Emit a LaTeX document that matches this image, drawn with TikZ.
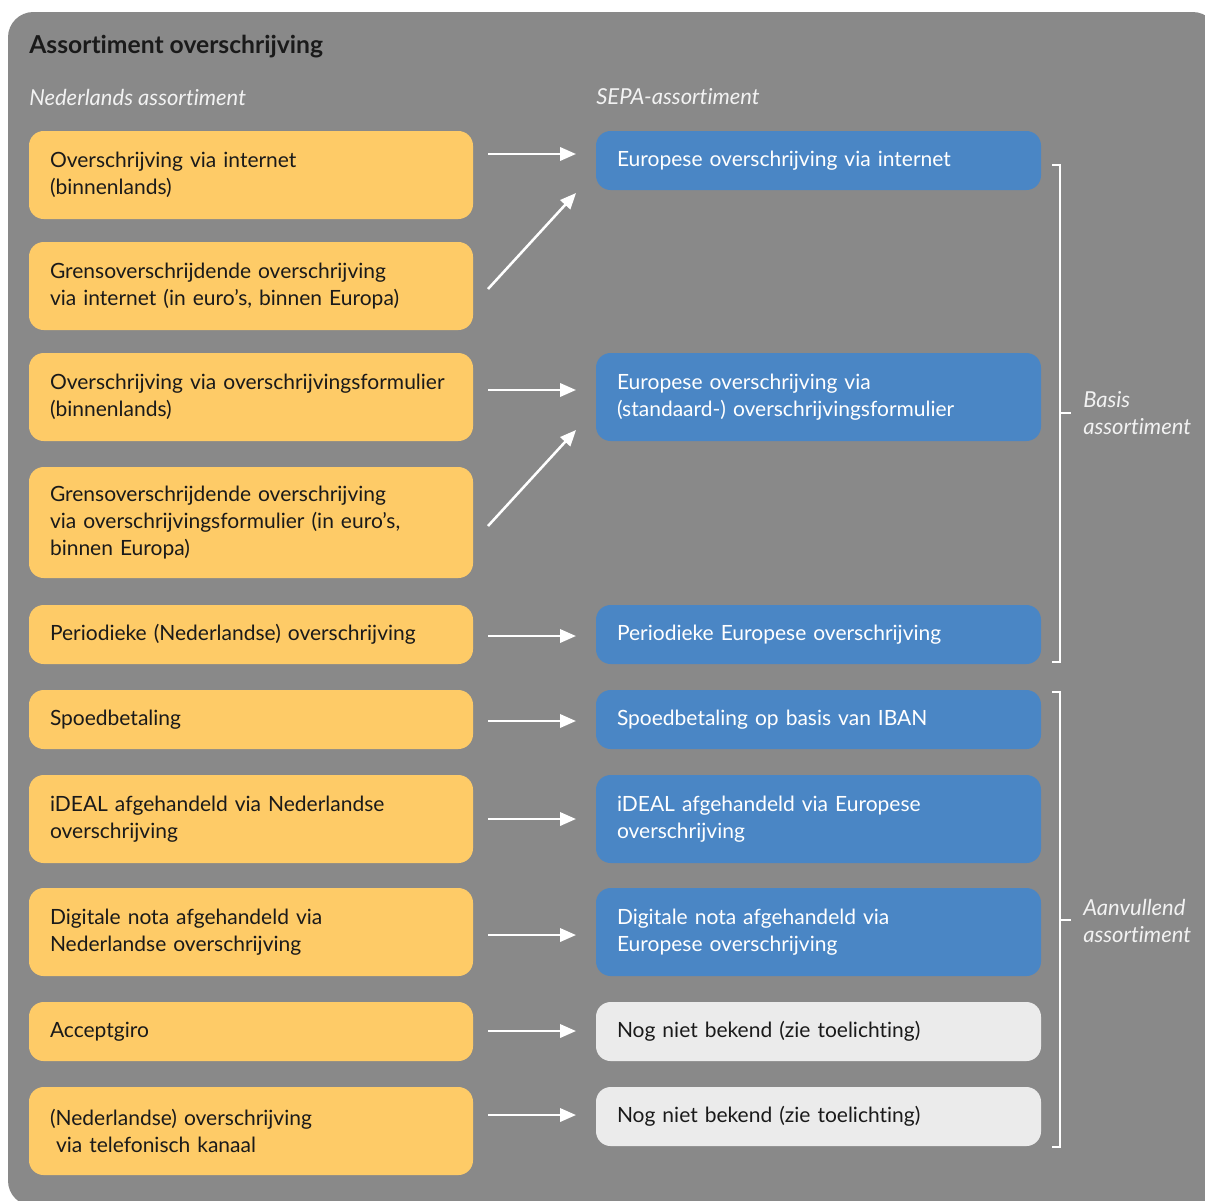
\documentclass[tikz,border=0pt]{standalone}
\usepackage{fontspec}
\setmainfont{Lato}[Ligatures=NoCommon]
\usetikzlibrary{arrows.meta}
\definecolor{bg}{HTML}{898989}
\definecolor{yel}{HTML}{FECB67}
\definecolor{blu}{HTML}{4A86C5}
\definecolor{lgr}{HTML}{EBEBEB}
\definecolor{ink}{HTML}{1A1A1A}
\definecolor{hd}{HTML}{F2F2F2}
\tikzset{
  x=0.75pt, y=-0.75pt,
  boxbase/.style={rounded corners=11pt, inner xsep=15.75pt, inner ysep=0pt, align=left,
    font=\fontsize{15.75}{20}\selectfont, anchor=center},
  lbox/.style={boxbase, fill=yel, text=ink, minimum width=333pt, text width=301.5pt},
  rbox/.style={boxbase, fill=blu, text=white, minimum width=333.75pt, text width=302.25pt},
  gbox/.style={boxbase, fill=lgr, text=ink, minimum width=333.75pt, text width=302.25pt},
  conn/.style={white, line width=1.9pt, -{Triangle[length=12pt,width=10pt]}},
  brk/.style={white, line width=1.5pt},
  hdtxt/.style={anchor=west, text=hd, font=\fontsize{16.5}{20}\selectfont\itshape, inner sep=0pt},
  side/.style={anchor=west, text=hd, align=left, font=\fontsize{16.5}{20}\selectfont\itshape, inner sep=0pt},
}
\begin{document}
\begin{tikzpicture}
\useasboundingbox (0,0) rectangle (1205,1200);
\clip (0,0) rectangle (1205,1200);
\fill[bg, rounded corners=19pt] (8,12) rectangle (1218,1206);

\node[anchor=west, inner sep=0pt, text=ink, font=\fontsize{18.5}{22}\selectfont\bfseries] (title) at (29,47) {Assortiment overschrijving};
\node[hdtxt] (hl) at (29,97) {Nederlands assortiment};
\node[hdtxt] (hr) at (596,97) {SEPA-assortiment};

% left boxes
\node[lbox, minimum height=66pt] (L1) at (251,175) {Overschrijving via internet\\(binnenlands)};
\node[lbox, minimum height=66pt] (L2) at (251,286) {Grensoverschrijdende overschrijving\\via internet (in euro’s, binnen Europa)};
\node[lbox, minimum height=66pt] (L3) at (251,397) {Overschrijving via overschrijvingsformulier\\(binnenlands)};
\node[lbox, minimum height=83.25pt] (L4) at (251,522.5) {Grensoverschrijdende overschrijving\\via overschrijvingsformulier (in euro’s,\\binnen Europa)};
\node[lbox, minimum height=44.25pt] (L5) at (251,634.5) {Periodieke (Nederlandse) overschrijving};
\node[lbox, minimum height=44.25pt] (L6) at (251,719.5) {Spoedbetaling};
\node[lbox, minimum height=66pt] (L7) at (251,819) {iDEAL afgehandeld via Nederlandse\\overschrijving};
\node[lbox, minimum height=66pt] (L8) at (251,932) {Digitale nota afgehandeld via\\Nederlandse overschrijving};
\node[lbox, minimum height=44.25pt] (L9) at (251,1031.5) {Acceptgiro};
\node[lbox, minimum height=66pt] (L10) at (251,1131) {(Nederlandse) overschrijving\\\hspace*{4.5pt}via telefonisch kanaal};

% right boxes
\node[rbox, minimum height=44.25pt] (R1) at (818.5,160.5) {Europese overschrijving via internet};
\node[rbox, minimum height=66pt] (R2) at (818.5,397) {Europese overschrijving via\\(standaard-) overschrijvingsformulier};
\node[rbox, minimum height=44.25pt] (R3) at (818.5,634.5) {Periodieke Europese overschrijving};
\node[rbox, minimum height=44.25pt] (R4) at (818.5,719.5) {Spoedbetaling op basis van IBAN};
\node[rbox, minimum height=66pt] (R5) at (818.5,819) {iDEAL afgehandeld via Europese\\overschrijving};
\node[rbox, minimum height=66pt] (R6) at (818.5,932) {Digitale nota afgehandeld via\\Europese overschrijving};
\node[gbox, minimum height=44.25pt] (R7) at (818.5,1031.5) {Nog niet bekend (zie toelichting)};
\node[gbox, minimum height=44.25pt] (R8) at (818.5,1116.5) {Nog niet bekend (zie toelichting)};

% arrows
\coordinate (a1s) at (488,154);  \coordinate (a1e) at (576,154);
\coordinate (a2s) at (488,289);  \coordinate (a2e) at (576,193);
\coordinate (a3s) at (488,390);  \coordinate (a3e) at (576,390);
\coordinate (a4s) at (488,526);  \coordinate (a4e) at (576,430);
\coordinate (a5s) at (488,636);  \coordinate (a5e) at (576,636);
\coordinate (a6s) at (488,721);  \coordinate (a6e) at (576,721);
\coordinate (a7s) at (488,819);  \coordinate (a7e) at (576,819);
\coordinate (a8s) at (488,935);  \coordinate (a8e) at (576,935);
\coordinate (a9s) at (488,1031); \coordinate (a9e) at (576,1031);
\coordinate (a10s) at (488,1115); \coordinate (a10e) at (576,1115);
\foreach \i in {1,...,10} {\draw[conn] (a\i s) -- (a\i e);}

% brackets
\draw[brk] (1052,165) -- (1060,165) -- (1060,662) -- (1052,662);
\draw[brk] (1060,413) -- (1071,413);
\node[side] (basis) at (1083,413) {Basis\\assortiment};
\draw[brk] (1052,692) -- (1060,692) -- (1060,1147) -- (1052,1147);
\draw[brk] (1060,920) -- (1071,920);
\node[side] (aanv) at (1083,921) {Aanvullend\\assortiment};
\end{tikzpicture}
\end{document}
